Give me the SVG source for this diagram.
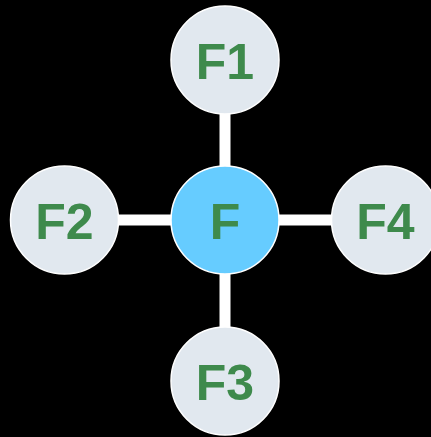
<svg xmlns="http://www.w3.org/2000/svg" width="431" height="437" viewBox="0 0 431 437">
<style>
.bg{fill:#000}
.edge{stroke:#fff;stroke-width:11}
.outer{fill:#e1e8ef;stroke:#fff;stroke-width:1.5}
.center{fill:#66ccff;stroke:#fff;stroke-width:1.5}
.lbl{font-family:"Liberation Sans",Arial,sans-serif;font-weight:bold;font-size:50px;fill:#3e8a4c;text-anchor:middle;dominant-baseline:central}
</style>
<rect class="bg" x="0" y="0" width="431" height="437"/>
<g id="connectors">
<line class="edge" x1="225" y1="220" x2="225" y2="60"/>
<line class="edge" x1="225" y1="220" x2="64.5" y2="220"/>
<line class="edge" x1="225" y1="220" x2="385.5" y2="220"/>
<line class="edge" x1="225" y1="220" x2="225" y2="381"/>
</g>
<g id="F1"><circle class="outer" cx="225" cy="60" r="54"/><text class="lbl" x="225" y="62">F1</text></g>
<g id="F2"><circle class="outer" cx="64.5" cy="220" r="54"/><text class="lbl" x="64.5" y="222">F2</text></g>
<g id="F4"><circle class="outer" cx="385.5" cy="220" r="54"/><text class="lbl" x="385.5" y="222">F4</text></g>
<g id="F3"><circle class="outer" cx="225" cy="381" r="54"/><text class="lbl" x="225" y="383">F3</text></g>
<g id="F"><circle class="center" cx="225" cy="220" r="54"/><text class="lbl" x="225" y="222">F</text></g>
</svg>
